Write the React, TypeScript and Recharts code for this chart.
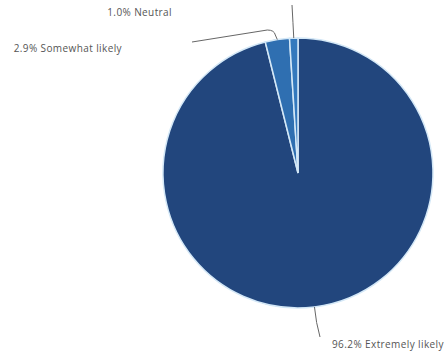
import React from 'react';
import { PieChart, Pie, Cell } from 'recharts';

const categories = ['Extremely likely', 'Somewhat likely', 'Neutral'];
const values = [96.2, 2.9, 1.0];
const labelTexts = ['96.2% Extremely likely', '2.9% Somewhat likely', '1.0% Neutral'];
const colors = ['#22467d', '#2f6fb1', '#3479bd'];

const data = categories.map((name, i) => ({ name, value: values[i], label: labelTexts[i] }));

// label layout offsets relative to the pie center (dx, dy of elbow / end / text)
const layouts = [
  { elbow: [18, 150], end: [22, 164], text: [34, 175], anchor: 'start' },
  { elbow: [-25, -143], end: [-106, -131], text: [-176, -121], anchor: 'end' },
  { elbow: [-5, -150], end: [-6, -168], text: [-126, -157], anchor: 'end' },
];

const RAD = Math.PI / 180;

const renderLabel = (props: any) => {
  const { cx, cy, midAngle, outerRadius, index } = props;
  const l = layouts[index];
  const sx = cx + outerRadius * Math.cos(-midAngle * RAD);
  const sy = cy + outerRadius * Math.sin(-midAngle * RAD);
  const ex = cx + l.end[0];
  const ey = cy + l.end[1];
  const mx = cx + l.elbow[0];
  const my = cy + l.elbow[1];
  const d = index === 1
    ? `M${sx},${sy} L${sx - 2},${my + 5} Q${sx - 3},${my} ${sx - 10},${my} L${ex},${ey}`
    : `M${sx},${sy} Q${mx},${my} ${ex},${ey}`;
  return (
    <g>
      <path d={d} stroke="#666" strokeWidth={1} fill="none" />
      <text x={cx + l.text[0]} y={cy + l.text[1]} textAnchor={l.anchor as any} fill="#555" fontSize={10} letterSpacing={0.4} fontFamily="'Open Sans', sans-serif">
        {data[index].label}
      </text>
    </g>
  );
};

export default function App() {
  return (
    <div style={{ position: 'absolute', left: 0, top: 0, width: 447, height: 356, background: '#fff' }}>
      <PieChart width={447} height={356} margin={{ top: 0, right: 0, bottom: 0, left: 0 }}>
        <Pie
          data={data}
          dataKey="value"
          nameKey="name"
          cx={298}
          cy={173}
          outerRadius={135}
          startAngle={90}
          endAngle={-270}
          stroke="#d4e8f7"
          strokeWidth={1.5}
          label={renderLabel}
          labelLine={false}
          isAnimationActive={false}
        >
          {data.map((d, i) => (
            <Cell key={d.name} fill={colors[i]} />
          ))}
        </Pie>
      </PieChart>
    </div>
  );
}
